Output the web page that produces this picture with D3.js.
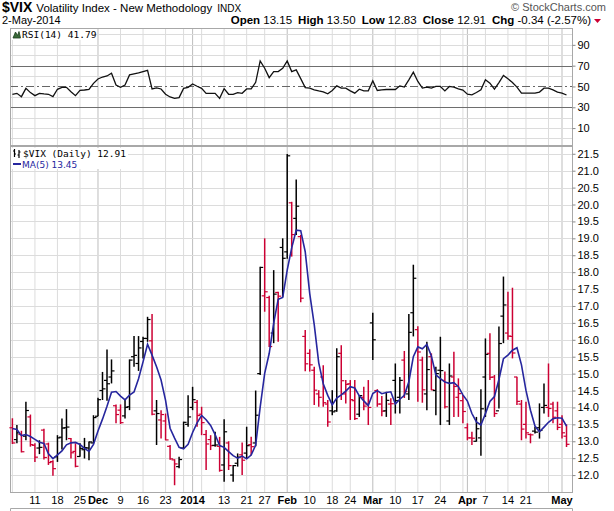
<!DOCTYPE html>
<html><head><meta charset="utf-8">
<script src="https://cdn.jsdelivr.net/npm/d3@7"></script>
<style>
html,body{margin:0;padding:0;background:#fff;}
svg{display:block;}
</style></head><body>
<svg id="chart" width="614" height="511"></svg>
<script>
// ---------- DATA ----------
const dates = [
"2013-11-04","2013-11-05","2013-11-06","2013-11-07","2013-11-08","2013-11-11","2013-11-12","2013-11-13","2013-11-14","2013-11-15","2013-11-18","2013-11-19","2013-11-20","2013-11-21","2013-11-22","2013-11-25","2013-11-26","2013-11-27","2013-11-29",
"2013-12-02","2013-12-03","2013-12-04","2013-12-05","2013-12-06","2013-12-09","2013-12-10","2013-12-11","2013-12-12","2013-12-13","2013-12-16","2013-12-17","2013-12-18","2013-12-19","2013-12-20","2013-12-23","2013-12-24","2013-12-26","2013-12-27","2013-12-30","2013-12-31",
"2014-01-02","2014-01-03","2014-01-06","2014-01-07","2014-01-08","2014-01-09","2014-01-10","2014-01-13","2014-01-14","2014-01-15","2014-01-16","2014-01-17","2014-01-21","2014-01-22","2014-01-23","2014-01-24","2014-01-27","2014-01-28","2014-01-29","2014-01-30","2014-01-31",
"2014-02-03","2014-02-04","2014-02-05","2014-02-06","2014-02-07","2014-02-10","2014-02-11","2014-02-12","2014-02-13","2014-02-14","2014-02-18","2014-02-19","2014-02-20","2014-02-21","2014-02-24","2014-02-25","2014-02-26","2014-02-27","2014-02-28",
"2014-03-03","2014-03-04","2014-03-05","2014-03-06","2014-03-07","2014-03-10","2014-03-11","2014-03-12","2014-03-13","2014-03-14","2014-03-17","2014-03-18","2014-03-19","2014-03-20","2014-03-21","2014-03-24","2014-03-25","2014-03-26","2014-03-27","2014-03-28","2014-03-31",
"2014-04-01","2014-04-02","2014-04-03","2014-04-04","2014-04-07","2014-04-08","2014-04-09","2014-04-10","2014-04-11","2014-04-14","2014-04-15","2014-04-16","2014-04-17","2014-04-21","2014-04-22","2014-04-23","2014-04-24","2014-04-25","2014-04-28","2014-04-29","2014-04-30",
"2014-05-01","2014-05-02"];

const openVals = [
13.40,13.05,13.20,13.15,13.72,12.88,12.80,13.33,12.92,12.40,12.54,13.12,13.40,13.08,12.70,12.55,12.75,12.80,12.95,
13.74,14.50,14.80,14.90,14.05,13.92,13.75,14.02,15.50,15.30,15.95,16.04,15.97,13.90,13.63,13.60,12.85,12.45,12.25,12.80,13.50,
14.00,14.15,13.80,13.20,13.05,12.88,12.85,12.30,12.95,12.00,12.35,12.60,12.65,12.90,12.95,15.00,17.30,17.25,16.20,17.40,18.73,
18.60,20.05,19.59,19.05,16.10,15.60,15.10,14.40,14.90,14.10,13.90,13.90,15.60,14.40,14.70,14.20,13.80,14.30,14.10,
16.50,14.50,14.10,13.90,14.10,14.80,14.30,15.40,14.40,16.80,16.30,15.40,14.40,15.50,14.50,15.10,14.80,13.60,14.90,14.30,14.20,
13.40,13.10,13.00,13.10,14.90,15.60,14.90,13.90,16.70,16.20,16.10,14.90,14.10,13.50,13.20,13.30,13.40,14.00,14.00,14.10,13.90,
13.50,13.15];

const highVals = [
13.68,13.48,13.31,14.17,13.79,12.94,13.03,13.37,12.96,12.44,13.18,13.67,13.95,13.10,12.94,12.94,13.10,12.99,13.77,
14.29,15.05,15.71,15.42,14.09,14.09,14.22,15.42,16.11,16.11,16.09,16.68,16.76,14.22,13.92,13.82,12.89,12.47,12.54,13.58,14.36,
14.61,14.22,14.02,13.33,13.18,13.28,13.13,13.65,13.00,12.30,12.64,12.96,13.43,13.13,14.50,18.16,19.00,17.30,18.06,17.42,19.00,
21.49,20.08,20.74,19.10,16.29,15.72,15.20,14.51,15.25,14.22,14.51,15.75,15.84,14.81,14.81,14.81,14.37,14.61,14.81,
16.80,14.54,14.34,14.46,14.27,15.30,14.90,15.67,16.76,18.22,16.40,15.50,15.94,15.60,15.20,16.09,15.06,15.30,15.65,14.86,14.37,
13.53,13.28,13.72,14.54,16.04,16.19,14.96,16.39,17.87,17.42,17.54,14.91,14.22,14.17,13.23,13.43,14.12,14.71,15.30,14.17,14.17,
13.77,13.50];

const lowVals = [
12.92,12.94,12.67,13.03,12.84,12.39,12.62,12.46,12.30,11.98,12.39,12.76,13.03,12.49,12.23,12.54,12.49,12.44,12.94,
13.74,14.22,14.20,14.71,13.53,13.51,13.67,13.92,15.20,15.08,15.45,15.94,13.77,12.89,13.08,13.03,12.45,11.70,12.20,12.79,13.43,
13.92,13.43,13.18,12.15,12.74,12.84,12.10,11.80,12.15,11.80,12.25,12.00,12.49,12.59,12.85,14.96,16.83,15.79,15.90,15.94,17.27,
18.40,18.46,19.10,17.11,15.07,15.06,14.07,14.02,14.02,13.43,13.77,13.87,14.22,14.12,13.63,13.63,13.72,13.92,13.48,
15.40,14.02,13.74,13.72,13.48,13.82,13.82,14.28,14.22,16.10,14.17,14.14,13.92,14.51,13.77,13.48,13.97,13.48,13.72,13.72,13.53,
13.03,12.89,12.99,12.57,13.72,14.81,13.72,13.97,15.90,16.00,15.45,14.07,13.03,13.08,12.94,13.23,13.08,13.82,13.72,13.53,13.33,
13.08,12.83];

const closeVals = [
12.95,13.25,12.69,13.91,12.90,12.53,12.82,12.52,12.37,12.19,13.10,13.39,13.42,12.66,12.26,12.79,12.81,12.98,13.70,
14.23,14.55,14.70,15.08,13.79,13.55,14.00,15.40,15.54,15.76,16.04,16.60,13.80,13.82,13.79,13.04,12.48,12.33,12.46,13.56,13.72,
14.23,13.76,13.55,12.92,12.87,12.89,12.14,13.28,12.28,12.28,12.53,12.44,12.87,12.84,13.77,18.14,17.42,15.80,17.35,17.29,18.41,
21.44,19.11,19.95,17.23,15.29,15.26,14.51,14.30,14.14,13.57,13.87,15.50,14.79,14.68,14.23,13.67,14.35,14.04,14.00,
16.00,14.10,13.89,14.21,14.11,14.20,14.80,14.47,16.22,17.82,15.64,14.52,15.12,14.52,15.00,15.09,14.02,14.93,14.62,14.41,13.88,
13.10,13.09,13.37,13.96,15.57,14.89,13.82,15.89,17.03,16.11,15.61,14.18,13.36,13.25,13.19,13.27,13.32,14.06,13.97,13.71,13.41,
13.25,12.91];

// closes of the 4 sessions before the first bar (needed for the MA(5) at the left edge)
const priorCloses = [13.41, 13.60, 13.75, 13.19];

const rsiVals = [
42.5,43.4,40.2,48.2,44.1,41.2,43.4,42.8,42.5,40.2,47.3,49.2,49.2,45.0,41.2,46.3,46.6,47.3,53.0,
57.2,59.1,60.1,62.7,51.4,49.2,51.4,61.1,62.0,63.0,64.3,65.5,47.6,48.6,47.6,42.5,39.9,38.6,39.3,48.2,49.2,
52.4,50.2,48.2,43.4,43.4,43.4,38.6,47.9,42.5,42.5,44.1,43.4,47.6,47.6,54.0,74.5,67.5,58.5,64.3,64.3,67.5,
74.5,64.3,65.9,57.5,48.9,48.4,46.8,45.8,44.9,43.0,46.2,50.6,48.4,48.4,45.8,43.6,47.4,45.8,45.8,
55.4,46.2,46.8,47.1,47.1,47.1,50.6,49.4,56.4,63.8,54.8,48.4,49.4,48.4,50.0,50.0,45.8,50.0,49.4,47.8,46.5,
42.6,42.0,44.2,46.8,56.4,53.2,47.4,53.8,60.6,57.4,53.8,49.4,43.6,43.6,43.6,43.6,44.6,48.4,48.4,46.8,44.6,
43.6,41.79];

const priceTicks = [12.0,12.5,13.0,13.5,14.0,14.5,15.0,15.5,16.0,16.5,17.0,17.5,18.0,18.5,19.0,19.5,20.0,20.5,21.0,21.5];
const rsiLabelTicks = [10,30,50,70,90];
const rsiGridTicks = [0,10,20,40,60,80,90,100];
const xLabelDates = ["2013-11-11","2013-11-18","2013-11-25","2013-12-02","2013-12-09","2013-12-16","2013-12-23","2014-01-02","2014-01-13","2014-01-21","2014-01-27","2014-02-03","2014-02-10","2014-02-18","2014-02-24","2014-03-03","2014-03-10","2014-03-17","2014-03-24","2014-04-01","2014-04-07","2014-04-14","2014-04-21","2014-05-01"];
const xLabelTexts = ["11","18","25","Dec","9","16","23","2014","13","21","27","Feb","10","18","24","Mar","10","17","24","Apr","7","14","21","May"];

// ---------- LAYOUT ----------
const L = 10, R = 572;
const rsiTop = 28, rsiBot = 145;
const mainTop = 146, mainBot = 492;
const RED = "#cc0033", NAVY = "#26269e";
const sans = "'Liberation Sans', Arial, sans-serif";
const mono = "'DejaVu Sans Mono', monospace";
const fmt2 = v => (v < 0 ? "-" : "") + Math.abs(v).toFixed(2);

const svg = d3.select("#chart");
const x = d3.scalePoint().domain(dates).range([12.4, 12.4 + 4.505 * (dates.length - 1)]);
const y = d3.scaleLinear().domain([11.5, 21.73]).range([mainBot, mainTop]);
const yr = d3.scaleLinear().domain([-6.25, 106.2]).range([rsiBot, rsiTop]);

const parse = d3.timeParse("%Y-%m-%d");
const pd = dates.map(parse);
const weekStarts = dates.filter((d, i) => i === 0 || pd[i].getDay() <= pd[i-1].getDay() || (pd[i] - pd[i-1]) > 3*864e5);
const monthStarts = dates.filter((d, i) => i > 0 && pd[i].getMonth() !== pd[i-1].getMonth());

// ---------- GRID ----------
const grid = svg.append("g");
function vgrid(y0, y1) {
  grid.selectAll(null).data(weekStarts.filter(d => !monthStarts.includes(d))).enter().append("line")
    .attr("x1", d => x(d)).attr("x2", d => x(d)).attr("y1", y0).attr("y2", y1)
    .attr("stroke", "#dcdcdc").attr("stroke-width", 1);
  grid.selectAll(null).data(monthStarts).enter().append("line")
    .attr("x1", d => x(d)).attr("x2", d => x(d)).attr("y1", y0).attr("y2", y1)
    .attr("stroke", "#bdbdbd").attr("stroke-width", 1);
}
vgrid(rsiTop, rsiBot);
vgrid(mainTop, mainBot);

grid.selectAll(null).data(priceTicks).enter().append("line")
  .attr("x1", L).attr("x2", R).attr("y1", d => Math.round(y(d)) + 0.5).attr("y2", d => Math.round(y(d)) + 0.5)
  .attr("stroke", "#dcdcdc");
grid.selectAll(null).data(rsiGridTicks).enter().append("line")
  .attr("x1", L).attr("x2", R).attr("y1", d => Math.round(yr(d)) + 0.5).attr("y2", d => Math.round(yr(d)) + 0.5)
  .attr("stroke", "#dcdcdc");
[30, 70].forEach(v => grid.append("line").attr("x1", L).attr("x2", R)
  .attr("y1", Math.round(yr(v)) + 0.5).attr("y2", Math.round(yr(v)) + 0.5)
  .attr("stroke", "#6e6e6e").attr("stroke-width", 1.2));
grid.append("line").attr("x1", L).attr("x2", R)
  .attr("y1", Math.round(yr(50)) + 0.5).attr("y2", Math.round(yr(50)) + 0.5)
  .attr("stroke", "#666").attr("stroke-dasharray", "8,3,2,3");

// ---------- FRAMES ----------
const fr = svg.append("g").attr("fill", "none").attr("stroke", "#a8a8a8");
fr.append("rect").attr("x", L + 0.5).attr("y", rsiTop + 0.5).attr("width", R - L).attr("height", rsiBot - rsiTop);
fr.append("rect").attr("x", L + 0.5).attr("y", mainTop + 0.5).attr("width", R - L).attr("height", mainBot - mainTop);
fr.append("path").attr("d", `M${L+0.5},511V508.5H${R+0.5}V511`);

// ---------- RIGHT AXES ----------
const yAxis = d3.axisRight(y).tickValues(priceTicks).tickFormat(d3.format(".1f")).tickSize(3).tickPadding(2);
const ga = svg.append("g").attr("transform", `translate(${R + 0.5},0)`).call(yAxis);
ga.select(".domain").remove();
ga.selectAll("line").attr("stroke", "#888");
ga.selectAll("text").attr("font-family", sans).attr("font-size", 11).attr("fill", "#000");

const rAxis = d3.axisRight(yr).tickValues(rsiLabelTicks).tickFormat(d3.format("d")).tickSize(3).tickPadding(2);
const gr = svg.append("g").attr("transform", `translate(${R + 0.5},0)`).call(rAxis);
gr.select(".domain").remove();
gr.selectAll("line").attr("stroke", "#888");
gr.selectAll("text").attr("font-family", sans).attr("font-size", 11).attr("fill", "#000");

// ---------- X LABELS ----------
svg.append("g").selectAll("text").data(xLabelDates).enter().append("text")
  .attr("x", d => x(d)).attr("y", 504).attr("text-anchor", "middle")
  .attr("font-family", sans).attr("font-size", 11)
  .attr("font-weight", (d, i) => /^\d{1,2}$/.test(xLabelTexts[i]) ? "normal" : "bold")
  .text((d, i) => xLabelTexts[i]);

// ---------- RSI LINE ----------
svg.append("clipPath").attr("id", "cr").append("rect")
  .attr("x", L).attr("y", rsiTop).attr("width", R - L).attr("height", rsiBot - rsiTop);
svg.append("path").datum(rsiVals)
  .attr("clip-path", "url(#cr)")
  .attr("d", d3.line().x((d, i) => x(dates[i])).y(d => yr(d)))
  .attr("fill", "none").attr("stroke", "#111").attr("stroke-width", 1.3);

// ---------- OHLC BARS ----------
const allCloses = priorCloses.concat(closeVals);
const bars = svg.append("g");
dates.forEach((d, i) => {
  const prev = i === 0 ? priorCloses[priorCloses.length - 1] : closeVals[i - 1];
  const col = closeVals[i] >= prev ? "#000" : RED;
  const cx = x(d);
  bars.append("line").attr("x1", cx).attr("x2", cx).attr("y1", y(highVals[i])).attr("y2", y(lowVals[i]))
    .attr("stroke", col).attr("stroke-width", 1.5);
  bars.append("line").attr("x1", cx - 3).attr("x2", cx).attr("y1", y(openVals[i])).attr("y2", y(openVals[i]))
    .attr("stroke", col).attr("stroke-width", 1.2);
  bars.append("line").attr("x1", cx).attr("x2", cx + 3).attr("y1", y(closeVals[i])).attr("y2", y(closeVals[i]))
    .attr("stroke", col).attr("stroke-width", 1.2);
});

// ---------- MA(5) ----------
const ma5 = closeVals.map((c, i) => d3.mean(allCloses.slice(i, i + 5)));
svg.append("path").datum(ma5)
  .attr("d", d3.line().x((d, i) => x(dates[i])).y(d => y(d)))
  .attr("fill", "none").attr("stroke", NAVY).attr("stroke-width", 1.6);

// ---------- LEGENDS ----------
function barIcon(g, x0, y0, col) {
  g.append("path").attr("d", `M${x0+1.5},${y0}V${y0+8}M${x0},${y0+2}H${x0+1.5}M${x0+1.5},${y0+5}H${x0+3}M${x0+6},${y0+1}V${y0+9}M${x0+4.5},${y0+6}H${x0+6}M${x0+6},${y0+3}H${x0+7.5}`)
    .attr("stroke", col).attr("stroke-width", 1.2).attr("fill", "none");
}
const lg = svg.append("g");
lg.append("rect").attr("x", 11).attr("y", 148).attr("width", 117).attr("height", 21).attr("fill", "#fff");
barIcon(lg, 13, 149, "#000");
lg.append("text").attr("x", 23).attr("y", 157).attr("font-family", mono).attr("font-size", 9.5)
  .text("$VIX (Daily) " + fmt2(closeVals[closeVals.length - 1]));
lg.append("line").attr("x1", 13).attr("x2", 21).attr("y1", 164).attr("y2", 164).attr("stroke", NAVY).attr("stroke-width", 2);
lg.append("text").attr("x", 22).attr("y", 167.5).attr("font-family", "'DejaVu Sans', Verdana, sans-serif").attr("font-size", 9)
  .attr("fill", NAVY).text("MA(5) " + fmt2(ma5[ma5.length - 1]));

const rl = svg.append("g");
rl.append("rect").attr("x", 11).attr("y", 29).attr("width", 82).attr("height", 11).attr("fill", "#fff");
rl.append("path").attr("d", "M13,38L15.5,32L17.5,35.5L19,31.5L20.5,38Z").attr("fill", "#3a6b3a").attr("stroke", "#1d3d1d").attr("stroke-width", 0.8);
rl.append("text").attr("x", 22).attr("y", 38).attr("font-family", mono).attr("font-size", 9.5)
  .text("RSI(14) " + fmt2(rsiVals[rsiVals.length - 1]));

// ---------- HEADER ----------
const h = svg.append("g");
const t1 = h.append("text").attr("x", 2).attr("y", 12).attr("font-family", sans);
t1.append("tspan").attr("font-weight", "bold").attr("font-size", 14).text("$VIX");
t1.append("tspan").attr("font-size", 11.5).attr("dx", 4).text("Volatility Index - New Methodology");
t1.append("tspan").attr("font-size", 10).attr("dx", 5).text("INDX");
h.append("text").attr("x", 606).attr("y", 11).attr("text-anchor", "end").attr("font-family", sans)
  .attr("font-size", 11).attr("fill", "#555").text("\u00A9 StockCharts.com");
h.append("text").attr("x", 2).attr("y", 24).attr("font-family", sans).attr("font-size", 11).text("2-May-2014");
const n = closeVals.length;
const chg = closeVals[n-1] - closeVals[n-2];
const t2 = h.append("text").attr("x", 591).attr("y", 24).attr("text-anchor", "end").attr("font-family", sans).attr("font-size", 11.5);
const parts = [["Open", openVals[n-1]], ["High", highVals[n-1]], ["Low", lowVals[n-1]], ["Close", closeVals[n-1]]];
parts.forEach(([k, v], j) => {
  t2.append("tspan").attr("font-weight", "bold").attr("dx", j ? 6 : 0).text(k);
  t2.append("tspan").text(" " + fmt2(v));
});
t2.append("tspan").attr("font-weight", "bold").attr("dx", 6).text("Chg");
t2.append("tspan").text(" " + fmt2(chg) + " (" + fmt2(chg / closeVals[n-2] * 100) + "%)");
h.append("path").attr("d", "M594,19H601L597.5,23Z").attr("fill", RED);
</script>
</body></html>
